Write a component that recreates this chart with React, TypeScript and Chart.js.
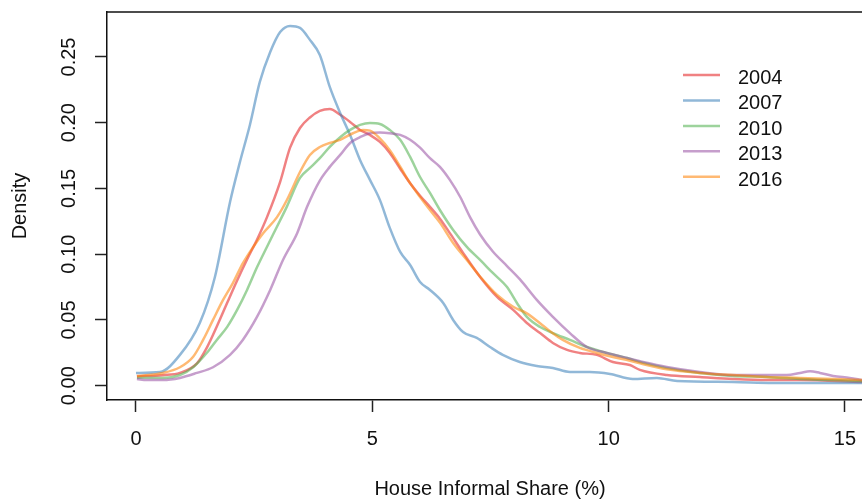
import React, { useEffect, useRef } from 'react';
import { Chart, registerables } from 'chart.js';

Chart.register(...registerables);

const FONT = '"Liberation Sans", Arial, Helvetica, sans-serif';

const xTicks = [0, 5, 10, 15];
const yTicks = [0, 0.05, 0.1, 0.15, 0.2, 0.25];
const xTitle = 'House Informal Share (%)';
const yTitle = 'Density';

const seriesLabels = ['2004', '2007', '2010', '2013', '2016'];
const seriesColors = [
  'rgba(228,26,28,0.55)',
  'rgba(55,126,184,0.55)',
  'rgba(77,175,74,0.55)',
  'rgba(152,78,163,0.55)',
  'rgba(255,127,0,0.55)',
];

const x2004 = [0.02, 0.57, 0.93, 1.29, 1.5, 1.71, 1.93, 2.14, 2.35, 2.56, 2.77, 3.05, 3.26, 3.47, 3.68, 3.89, 4.1, 4.32, 4.53, 4.74, 4.95, 5.16, 5.37, 5.59, 5.8, 6.01, 6.22, 6.43, 6.64, 6.92, 7.28, 7.64, 7.98, 8.27, 8.55, 8.82, 9.12, 9.39, 9.75, 10.09, 10.45, 10.66, 11.23, 11.93, 12.63, 13.35, 14.05, 15.36];
const y2004 = [0.007, 0.008, 0.0097, 0.017, 0.029, 0.045, 0.063, 0.08, 0.096, 0.111, 0.128, 0.155, 0.181, 0.196, 0.204, 0.209, 0.2104, 0.206, 0.2006, 0.1945, 0.1907, 0.1854, 0.177, 0.165, 0.154, 0.1445, 0.136, 0.127, 0.116, 0.101, 0.0827, 0.0675, 0.0576, 0.0477, 0.04, 0.0325, 0.0272, 0.0249, 0.0234, 0.018, 0.0157, 0.012, 0.0081, 0.0066, 0.0051, 0.0043, 0.0043, 0.0028];

const x2007 = [0, 0.51, 0.93, 1.35, 1.67, 1.99, 2.2, 2.41, 2.62, 2.84, 3.05, 3.26, 3.47, 3.68, 3.89, 4.1, 4.32, 4.53, 4.74, 4.95, 5.16, 5.37, 5.59, 5.8, 6.01, 6.22, 6.5, 6.71, 6.92, 7.21, 7.49, 7.76, 8.12, 8.48, 8.82, 9.18, 9.6, 10.03, 10.51, 11.02, 11.45, 12.63, 13.48, 15.36];
const y2007 = [0.0097, 0.0104, 0.0234, 0.0477, 0.0827, 0.1397, 0.1702, 0.1983, 0.231, 0.2538, 0.269, 0.2736, 0.2721, 0.263, 0.2515, 0.2272, 0.2074, 0.1907, 0.1717, 0.1565, 0.1413, 0.12, 0.1017, 0.0918, 0.0789, 0.0728, 0.0629, 0.05, 0.0408, 0.0363, 0.0294, 0.0234, 0.018, 0.015, 0.0135, 0.0104, 0.0104, 0.0089, 0.0051, 0.0059, 0.0036, 0.0028, 0.0021, 0.0021];

const x2010 = [0.02, 0.57, 0.93, 1.21, 1.5, 1.71, 1.93, 2.14, 2.35, 2.56, 2.77, 2.98, 3.19, 3.47, 3.68, 3.89, 4.1, 4.32, 4.53, 4.74, 4.95, 5.16, 5.37, 5.59, 5.8, 6.01, 6.22, 6.43, 6.71, 7.0, 7.28, 7.55, 7.85, 8.06, 8.27, 8.55, 8.82, 9.18, 9.54, 9.96, 10.39, 10.66, 11.23, 11.93, 12.63, 13.35, 14.05, 15.36];
const y2010 = [0.006, 0.0059, 0.0081, 0.014, 0.025, 0.0348, 0.0447, 0.0576, 0.0728, 0.09, 0.1055, 0.1207, 0.136, 0.158, 0.1656, 0.173, 0.1816, 0.189, 0.1945, 0.1983, 0.1998, 0.199, 0.1945, 0.187, 0.174, 0.1587, 0.1466, 0.1336, 0.1184, 0.1055, 0.0956, 0.0857, 0.075, 0.0629, 0.0523, 0.0446, 0.04, 0.0348, 0.0294, 0.0249, 0.021, 0.018, 0.0135, 0.0097, 0.0074, 0.0066, 0.0051, 0.0036];

const x2013 = [0.02, 0.23, 0.57, 0.93, 1.29, 1.63, 1.99, 2.26, 2.56, 2.84, 3.11, 3.41, 3.62, 3.89, 4.1, 4.32, 4.53, 4.74, 4.95, 5.16, 5.37, 5.59, 5.8, 6.01, 6.22, 6.43, 6.64, 6.86, 7.07, 7.28, 7.55, 7.85, 8.12, 8.48, 8.82, 9.18, 9.54, 9.96, 10.39, 10.73, 11.23, 11.93, 12.63, 13.77, 14.05, 14.26, 14.47, 14.75, 15.1, 15.36];
const y2013 = [0.005, 0.0043, 0.0043, 0.0059, 0.0097, 0.014, 0.0234, 0.0348, 0.0523, 0.0728, 0.0956, 0.116, 0.136, 0.156, 0.1664, 0.1755, 0.1846, 0.189, 0.192, 0.1925, 0.192, 0.1907, 0.187, 0.181, 0.173, 0.1664, 0.1565, 0.1435, 0.128, 0.115, 0.102, 0.091, 0.081, 0.0652, 0.0523, 0.04, 0.0294, 0.0249, 0.021, 0.018, 0.0142, 0.0104, 0.0081, 0.0081, 0.0097, 0.011, 0.0097, 0.0074, 0.0059, 0.0043];

const x2016 = [0.02, 0.57, 0.93, 1.21, 1.42, 1.63, 1.84, 2.05, 2.26, 2.48, 2.69, 2.98, 3.19, 3.47, 3.68, 3.89, 4.1, 4.32, 4.59, 4.8, 4.95, 5.16, 5.37, 5.59, 5.8, 6.01, 6.22, 6.43, 6.71, 7.0, 7.28, 7.64, 7.98, 8.27, 8.7, 9.03, 9.39, 9.75, 10.09, 10.45, 10.66, 11.23, 11.93, 12.63, 13.35, 14.05, 15.36];
const y2016 = [0.0074, 0.0097, 0.014, 0.022, 0.0348, 0.05, 0.065, 0.078, 0.093, 0.1055, 0.116, 0.128, 0.141, 0.1625, 0.1755, 0.1815, 0.1846, 0.187, 0.192, 0.1945, 0.194, 0.188, 0.179, 0.1665, 0.154, 0.1435, 0.1336, 0.124, 0.1085, 0.0956, 0.083, 0.069, 0.06, 0.055, 0.0431, 0.0348, 0.0287, 0.0249, 0.0218, 0.019, 0.017, 0.0125, 0.0097, 0.0081, 0.0066, 0.0059, 0.0043];

const seriesX = [x2004, x2007, x2010, x2013, x2016];
const seriesY = [y2004, y2007, y2010, y2013, y2016];

const boxAndLegend = {
  id: 'boxAndLegend',
  afterDraw(chart: any) {
    const { ctx, chartArea } = chart;
    ctx.save();
    ctx.strokeStyle = '#111';
    ctx.lineWidth = 1.5;
    ctx.beginPath();
    ctx.moveTo(chartArea.left, chartArea.top);
    ctx.lineTo(chartArea.right, chartArea.top);
    ctx.stroke();
    ctx.font = `20px ${FONT}`;
    ctx.fillStyle = '#111';
    // x axis title
    ctx.textAlign = 'center';
    ctx.textBaseline = 'alphabetic';
    ctx.fillText(xTitle, 490, 494.5);
    // legend
    ctx.textBaseline = 'middle';
    ctx.textAlign = 'left';
    seriesLabels.forEach((lab, i) => {
      const y = 75 + i * 25.45;
      ctx.strokeStyle = seriesColors[i];
      ctx.lineWidth = 2.5;
      ctx.beginPath();
      ctx.moveTo(683, y);
      ctx.lineTo(720, y);
      ctx.stroke();
      ctx.fillStyle = '#111';
      ctx.fillText(lab, 738, y + 3.5);
    });
    ctx.restore();
  },
};

const zeroPad = (s: any) => {
  s.paddingTop = 0;
  s.paddingBottom = 0;
  s.paddingLeft = 0;
  s.paddingRight = 0;
};

export default function App() {
  const ref = useRef<HTMLCanvasElement>(null);
  useEffect(() => {
    if (!ref.current) return;
    const tickFont = { family: FONT, size: 20 };
    const chart = new Chart(ref.current, {
      type: 'line',
      data: {
        datasets: seriesLabels.map((lab, i) => ({
          label: lab,
          data: seriesX[i].map((x, j) => ({ x, y: seriesY[i][j] })),
          borderColor: seriesColors[i],
          backgroundColor: seriesColors[i],
          borderWidth: 2.5,
          pointRadius: 0,
          fill: false,
          cubicInterpolationMode: 'monotone',
          order: seriesLabels.length - i,
        })),
      },
      options: {
        responsive: false,
        animation: false,
        devicePixelRatio: 1,
        layout: { padding: { top: 12, right: 0, left: 0, bottom: 0 } },
        plugins: { legend: { display: false }, tooltip: { enabled: false } },
        scales: {
          x: {
            type: 'linear',
            min: -0.613,
            max: 15.36,
            afterBuildTicks: (s: any) => {
              s.ticks = xTicks.map((v) => ({ value: v }));
            },
            afterFit: (s: any) => {
              s.height = 100;
              zeroPad(s);
            },
            grid: { drawOnChartArea: false, drawTicks: true, tickLength: 12, tickColor: '#222', tickWidth: 1.5 },
            border: { display: true, color: '#111', width: 1.5 },
            ticks: {
              font: tickFont,
              color: '#111',
              padding: 15,
              maxRotation: 0,
              autoSkip: false,
              callback: (v: any) => String(v),
            },
            title: { display: false },
          },
          y: {
            type: 'linear',
            min: -0.0109,
            max: 0.2842,
            afterBuildTicks: (s: any) => {
              s.ticks = yTicks.map((v) => ({ value: v }));
            },
            afterFit: (s: any) => {
              s.width = 107;
              zeroPad(s);
            },
            grid: { drawOnChartArea: false, drawTicks: true, tickLength: 12, tickColor: '#222', tickWidth: 1.5 },
            border: { display: true, color: '#111', width: 1.5 },
            ticks: {
              font: tickFont,
              color: '#111',
              padding: 6,
              minRotation: 90,
              maxRotation: 90,
              crossAlign: 'center',
              autoSkip: false,
              callback: (v: any) => Number(v).toFixed(2),
            },
            title: { display: true, text: yTitle, font: tickFont, color: '#111', padding: { top: 8, bottom: 0 } },
          },
        },
      },
      plugins: [boxAndLegend],
    } as any);
    return () => chart.destroy();
  }, []);
  return (
    <div style={{ position: 'absolute', left: 0, top: 0, width: 862, height: 500, background: '#fff' }}>
      <canvas ref={ref} width={862} height={500} style={{ display: 'block' }} />
    </div>
  );
}
